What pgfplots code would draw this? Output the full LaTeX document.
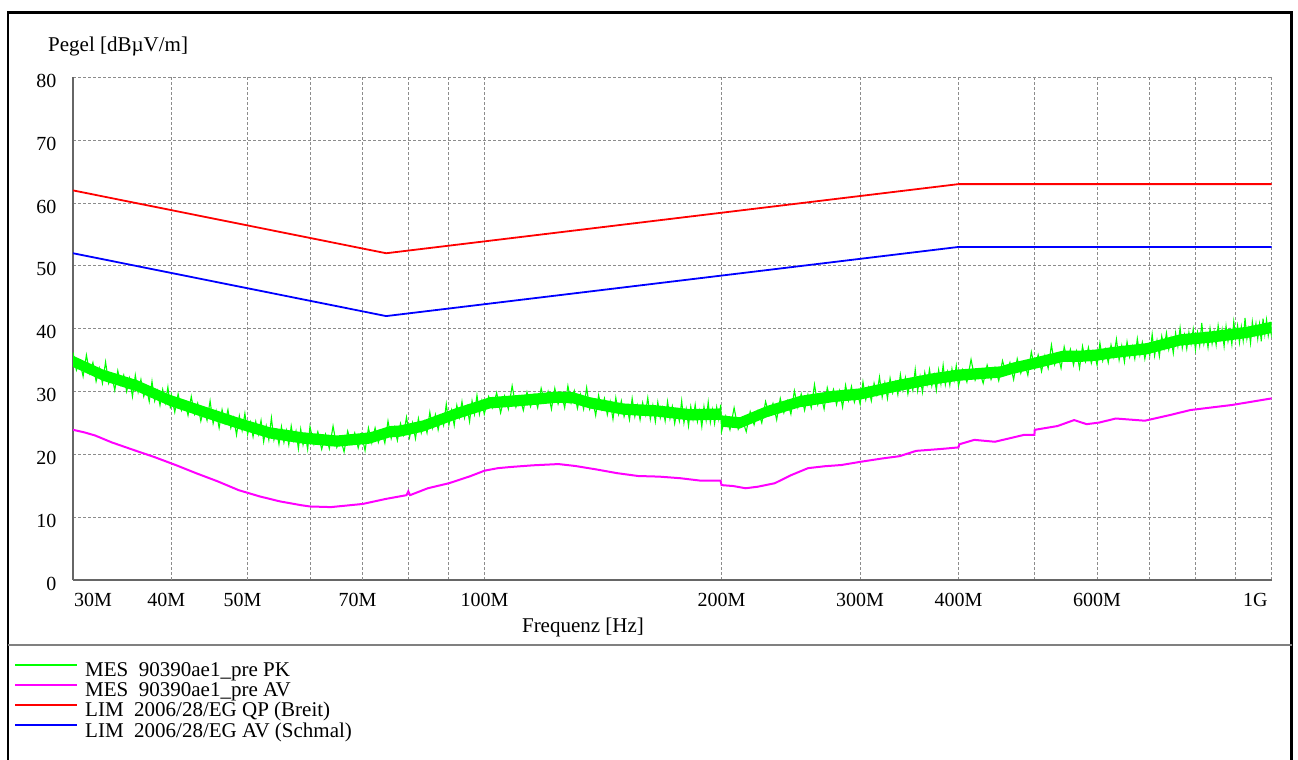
\documentclass[border=0pt]{standalone}
\usepackage{fontspec}
\setmainfont{Liberation Serif}
\usepackage{pgfplots}
\pgfplotsset{compat=1.18}

\definecolor{mespk}{RGB}{0,255,0}
\definecolor{mesav}{RGB}{255,0,255}
\definecolor{limqp}{RGB}{255,0,0}
\definecolor{limav}{RGB}{0,0,255}

\begin{document}
\begin{tikzpicture}[font=\fontsize{21bp}{25bp}\selectfont]
\path[use as bounding box] (0bp,0bp) rectangle (1298bp,760bp);

% frame and legend separator
\draw[line width=2.6bp] (8bp,-5bp) -- (8bp,747.5bp) -- (1291.5bp,747.5bp) -- (1291.5bp,-5bp);
\draw[black!50, line width=2bp] (8bp,115bp) -- (1291.5bp,115bp);

\begin{axis}[
  at={(73bp,180bp)}, anchor=south west,
  width=1198.7bp, height=502.7bp, scale only axis,
  xmode=log, xmin=30, xmax=1000, ymin=0, ymax=80,
  axis x line*=bottom, axis y line*=left,
  axis line style={draw=black!60, line width=1.6bp},
  major tick length=0pt,
  grid=major,
  major grid style={draw=black!45, dash pattern=on 3bp off 2bp, line width=0.7bp},
  xtick={30,40,50,60,70,80,90,100,200,300,400,500,600,700,800,900,1000},
  xticklabels={,,,,,,,100M,200M,300M,400M,,600M,,,,},
  extra x ticks={40,50,70},
  extra x tick labels={40M,50M,70M},
  extra x tick style={xticklabel style={xshift=-5bp}},
  ytick={0,10,20,30,40,50,60,70,80},
  yticklabels={0,10,20,30,40,50,60,70,80},
  tick label style={font=\fontsize{20bp}{24bp}\selectfont},
  xticklabel style={yshift=-10bp},
  yticklabel style={xshift=-13bp, yshift=-3.5bp},
  clip mode=individual,
]
% MES PK: dense core of the noise band
\addplot[draw=none, fill=mespk] coordinates {
(30,35.7)(32.75,33.5)(36.2,31.8)(39.8,29.5)(43.9,27.7)(48.5,25.9)(53.4,24.3)(58.8,23.5)(64.9,23.0)(71.5,23.5)(75.8,24.5)(78.1,24.6)(83.5,25.4)(92.2,27.4)(101.6,29.1)(111.9,29.5)(123.6,30.0)(129.5,29.9)(136,29.1)(150,28.1)(165.6,27.8)(182.4,27.2)(199.6,27.3)(200,26.2)(211,25.9)(228.4,27.7)(251.6,29.3)(277,30.1)(300,30.5)(337,31.9)(371,32.9)(400,33.5)(452,34.0)(469,34.6)(500,35.4)(543,36.5)(571,36.5)(600,36.7)(629,37.1)(694,37.7)(765,39.1)(842,39.6)(930,40.3)(1000,41.1)
(1000,39.3)(930,38.5)(842,37.8)(765,37.3)(694,35.9)(629,35.3)(600,34.9)(571,34.7)(543,34.7)(500,33.6)(469,32.8)(452,32.2)(400,31.7)(371,31.1)(337,30.1)(300,28.7)(277,28.3)(251.6,27.5)(228.4,25.9)(211,24.1)(200,24.4)(199.6,25.5)(182.4,25.4)(165.6,26.0)(150,26.3)(136,27.3)(129.5,28.1)(123.6,28.2)(111.9,27.7)(101.6,27.3)(92.2,25.6)(83.5,23.6)(78.1,22.8)(75.8,22.7)(71.5,21.7)(64.9,21.2)(58.8,21.7)(53.4,22.5)(48.5,24.1)(43.9,25.9)(39.8,27.7)(36.2,30.0)(32.75,31.7)(30,33.9)
} -- cycle;
% MES PK: peaks
\addplot[mespk, line width=1.1bp] coordinates {
(30.0,36.2)(30.3,33.4)(30.6,34.9)(30.9,32.4)(31.2,35.8)(31.5,32.9)(31.8,34.6)(32.1,31.6)(32.4,33.7)(32.7,31.3)(33.0,34.7)(33.3,31.3)(33.6,32.6)(33.9,30.2)(34.2,33.3)(34.5,31.1)(34.8,32.6)(35.1,30.0)(35.4,32.1)(35.7,29.2)(36.0,32.6)(36.3,29.9)(36.6,31.9)(36.9,29.2)(37.2,30.6)(37.5,28.4)(37.8,31.6)(38.1,28.5)(38.4,30.1)(38.7,27.8)(39.0,30.3)(39.3,28.2)(39.6,30.7)(39.9,27.3)
(40.0,29.4)(40.4,26.7)(40.8,29.6)(41.2,27.0)(41.6,28.4)(42.0,26.2)(42.4,29.2)(42.8,26.4)(43.2,28.1)(43.6,25.3)(44.0,27.3)(44.4,25.4)(44.8,28.5)(45.2,24.9)(45.6,26.9)(46.0,24.2)(46.4,27.1)(46.8,25.0)(47.2,27.1)(47.6,24.2)(48.0,25.8)(48.4,23.1)(48.8,26.1)(49.2,23.8)(49.6,26.5)(50.0,23.2)(50.4,25.1)(50.8,22.8)(51.2,25.2)(51.6,23.2)(52.0,25.4)(52.4,22.0)(52.8,24.5)(53.2,22.3)(53.6,25.8)(54.0,22.3)(54.4,23.8)(54.8,21.6)(55.2,24.4)(55.6,21.9)(56.0,23.8)(56.4,21.5)(56.8,24.5)(57.2,22.2)(57.6,23.7)(58.0,20.9)(58.4,24.0)(58.8,21.5)(59.2,23.1)(59.6,20.8)
(60.0,24.4)(60.7,21.6)(61.4,23.6)(62.1,20.8)(62.8,23.2)(63.5,20.9)(64.2,24.5)(64.9,21.1)(65.6,22.6)(66.3,20.4)(67.0,23.7)(67.7,21.7)(68.4,23.4)(69.1,21.0)(69.8,23.2)(70.5,20.6)(71.2,24.2)(71.9,21.8)(72.6,24.2)(73.3,21.9)(74.0,23.7)(74.7,21.8)(75.4,25.3)(76.1,22.5)(76.8,24.3)(77.5,22.2)(78.2,24.9)(78.9,23.1)(79.6,25.9)(80.3,22.7)(81.0,25.0)(81.7,22.5)(82.4,25.7)(83.1,23.4)(83.8,25.2)(84.5,23.4)(85.2,26.7)(85.9,24.2)(86.6,26.3)(87.3,23.9)(88.0,26.1)(88.7,24.6)(89.4,28.0)(90.1,24.7)(90.8,27.0)(91.5,24.6)(92.2,27.8)(92.9,25.9)(93.6,28.4)(94.3,25.8)(95.0,27.6)(95.7,25.2)(96.4,28.5)(97.1,26.4)(97.8,29.4)(98.5,26.4)(99.2,28.5)(99.9,26.4)
(101.2,29.2)(102.4,27.4)(103.6,29.8)(104.8,26.6)(106.0,29.3)(107.2,27.2)(108.4,30.9)(109.6,27.5)(110.8,29.2)(112.0,27.0)(113.2,29.9)(114.4,27.6)(115.6,29.5)(116.8,27.4)(118.0,30.5)(119.2,28.3)(120.4,30.0)(121.6,27.2)(122.8,30.5)(124.0,28.0)(125.2,29.7)(126.4,27.4)(127.6,30.9)(128.8,28.2)(130.0,30.1)(131.2,27.3)(132.4,29.5)(133.6,27.2)(134.8,30.6)(136.0,27.2)(137.2,28.6)(138.4,26.2)(139.6,29.4)(140.8,27.2)(142.0,28.9)(143.2,26.3)(144.4,28.4)(145.6,25.6)(146.8,29.0)(148.0,26.4)(149.2,28.5)(150.4,26.0)(151.6,27.6)(152.8,25.5)(154.0,28.9)(155.2,26.0)(156.4,27.8)(157.6,25.5)(158.8,28.2)(160.0,26.3)(161.2,29.0)(162.4,25.6)(163.6,27.8)(164.8,25.2)(166.0,28.3)(167.2,25.8)(168.4,27.4)(169.6,25.3)(170.8,28.4)(172.0,25.7)(173.2,27.6)(174.4,24.9)(175.6,27.0)(176.8,25.3)(178.0,28.5)(179.2,25.0)(180.4,27.2)(181.6,24.5)(182.8,27.6)(184.0,25.6)(185.2,27.9)(186.4,25.2)(187.6,26.9)(188.8,24.4)(190.0,27.6)(191.2,25.4)(192.4,28.3)(193.6,25.1)(194.8,27.1)(196.0,24.9)(197.2,27.5)(198.4,25.6)(199.6,27.9)
(200,23.6)(202.5,26.1)(205,23.9)(207.5,27.4)(210,24.0)(212.5,25.6)(215,23.6)(217.5,26.8)(220,24.7)(222.5,26.9)(225,25.0)(227.5,28.4)(230,26.3)(232.5,28.1)(235,25.5)(237.5,28.9)(240,26.6)(242.5,28.5)(245,26.4)(247.5,30.1)(250,27.5)(252.5,29.6)(255,27.0)(257.5,29.5)(260,27.4)(262.5,31.1)(265,27.9)(267.5,29.5)(270,27.2)(272.5,30.6)(275,28.6)(277.5,30.3)(280,27.9)(282.5,30.1)(285,27.5)(287.5,31.0)(290,28.6)(292.5,30.8)(295,28.3)(297.5,29.9)(300,28.0)(302.5,31.5)(305,28.7)(307.5,30.6)(310,28.5)(312.5,31.3)(315,29.5)(317.5,32.3)(320,29.1)(322.5,31.4)(325,28.9)(327.5,32.1)(330,29.8)(332.5,31.5)(335,29.5)(337.5,32.7)(340,30.2)(342.5,32.2)(345,29.6)(347.5,31.8)(350,30.2)(352.5,33.5)(355,30.1)(357.5,32.4)(360,29.9)(362.5,33.0)(365,31.1)(367.5,33.5)(370,30.9)(372.5,32.6)(375,30.2)(377.5,33.4)(380,31.2)(382.5,34.2)(385,31.1)(387.5,33.1)(390,31.0)(392.5,33.6)(395,31.8)(397.5,34.1)
(400,30.9)(405,33.5)(410,31.5)(415,35.1)(420,31.8)(425,33.4)(430,31.3)(435,34.2)(440,31.9)(445,33.8)(450,31.7)(455,34.9)(460,32.8)(465,34.6)(470,31.9)(475,35.2)(480,32.9)(485,34.7)(490,32.6)(495,36.3)(500,33.7)(505,35.8)(510,33.2)(515,35.7)(520,33.7)(525,37.4)(530,34.3)(535,35.9)(540,33.7)(545,37.1)(550,35.0)(555,36.7)(560,34.2)(565,36.4)(570,33.7)(575,37.2)(580,34.8)(585,37.0)(590,34.5)(595,36.2)(600,34.2)(605,37.7)(610,34.9)(615,36.7)(620,34.6)(625,37.4)(630,35.5)(635,38.3)(640,35.0)(645,37.3)(650,34.7)(655,37.9)(660,35.5)(665,37.2)(670,35.2)(675,38.4)(680,35.8)(685,37.8)(690,35.2)(695,37.3)(700,35.7)(705,39.1)(710,35.7)(715,38.1)(720,35.6)(725,38.8)(730,36.9)(735,39.3)(740,36.7)(745,38.5)(750,36.1)(755,39.3)(760,37.2)(765,40.1)(770,36.9)(775,39.0)(780,36.8)(785,39.4)(790,37.6)(795,39.9)(800,36.7)(805,39.4)(810,37.3)(815,40.9)(820,37.6)(825,39.2)(830,37.0)(835,40.0)(840,37.6)(845,39.5)(850,37.4)(855,40.5)(860,38.3)(865,39.9)(870,37.2)(875,40.4)(880,38.0)(885,39.7)(890,37.5)(895,41.1)(900,38.5)(905,40.5)(910,37.8)(915,40.3)(920,38.1)(925,41.7)(930,38.4)(935,40.0)(940,37.7)(945,41.1)(950,39.1)(955,40.8)(960,38.4)(965,40.7)(970,38.0)(975,41.6)(980,39.1)(985,41.4)(990,38.9)(995,40.6)(1000,38.6)
};
% MES AV
\addplot[mesav, line width=2bp] coordinates {
(30,23.9)(31,23.5)(32,23.0)(33.6,21.9)(35.8,20.7)(38,19.6)(40.5,18.3)(43,17.0)(45.8,15.7)(48.7,14.3)(51.8,13.3)(55,12.5)(58.5,11.9)(60,11.7)(63.8,11.6)(66.2,11.8)(70,12.1)(74.9,12.9)(79.6,13.5)(80,14.1)(80.4,13.5)(84.7,14.6)(90.1,15.4)(95.8,16.5)(100,17.4)(104,17.8)(108.3,18.0)(115.2,18.25)(124.1,18.45)(130.3,18.15)(138.6,17.6)(147.4,17.0)(156.7,16.55)(166.7,16.45)(177.2,16.2)(188.5,15.8)(199.5,15.8)(200,15.1)(207,14.95)(214.6,14.6)(222.5,14.85)(233.7,15.4)(245.3,16.7)(257.6,17.8)(270.4,18.1)(284,18.3)(300,18.8)(320.4,19.35)(336.6,19.7)(353.4,20.55)(380,20.85)(400,21.1)(401,21.6)(419,22.3)(445,22.0)(484.8,23.1)(499.5,23.1)(500,23.9)(534.4,24.5)(561,25.45)(582,24.8)(603.6,25.05)(633.7,25.7)(690,25.35)(742.6,26.25)(788.6,27.05)(890,27.85)(1000,28.9)
};
% LIM QP
\addplot[limqp, line width=1.8bp] coordinates {(30,62)(75,52)(400,63)(1000,63)};
% LIM AV
\addplot[limav, line width=1.8bp] coordinates {(30,52)(75,42)(400,53)(1000,53)};

\node[anchor=north west, inner sep=0pt, font=\fontsize{20bp}{24bp}\selectfont] at ([xshift=1bp,yshift=-13bp]rel axis cs:0,0) {30M};
\node[anchor=north east, inner sep=0pt, font=\fontsize{20bp}{24bp}\selectfont] at ([xshift=-4bp,yshift=-13bp]rel axis cs:1,0) {1G};
\end{axis}

\node[anchor=base west, inner sep=0pt] at (48bp,708bp) {Pegel [dBµV/m]};
\node[anchor=base, inner sep=0pt] at (583bp,127bp) {Frequenz [Hz]};

% legend
\fill[mespk] (15bp,94bp) rectangle (77bp,96bp);
\fill[mesav] (15bp,74bp) rectangle (77bp,76bp);
\fill[limqp] (15bp,54bp) rectangle (77bp,56bp);
\fill[limav] (15bp,34bp) rectangle (77bp,36bp);
\node[anchor=base west, inner sep=0pt] at (85bp,83bp) {MES\ \ 90390ae1\_pre PK};
\node[anchor=base west, inner sep=0pt] at (85bp,63bp) {MES\ \ 90390ae1\_pre AV};
\node[anchor=base west, inner sep=0pt] at (85bp,43bp) {LIM\ \ 2006/28/EG QP (Breit)};
\node[anchor=base west, inner sep=0pt] at (85bp,23bp) {LIM\ \ 2006/28/EG AV (Schmal)};
\end{tikzpicture}
\end{document}
